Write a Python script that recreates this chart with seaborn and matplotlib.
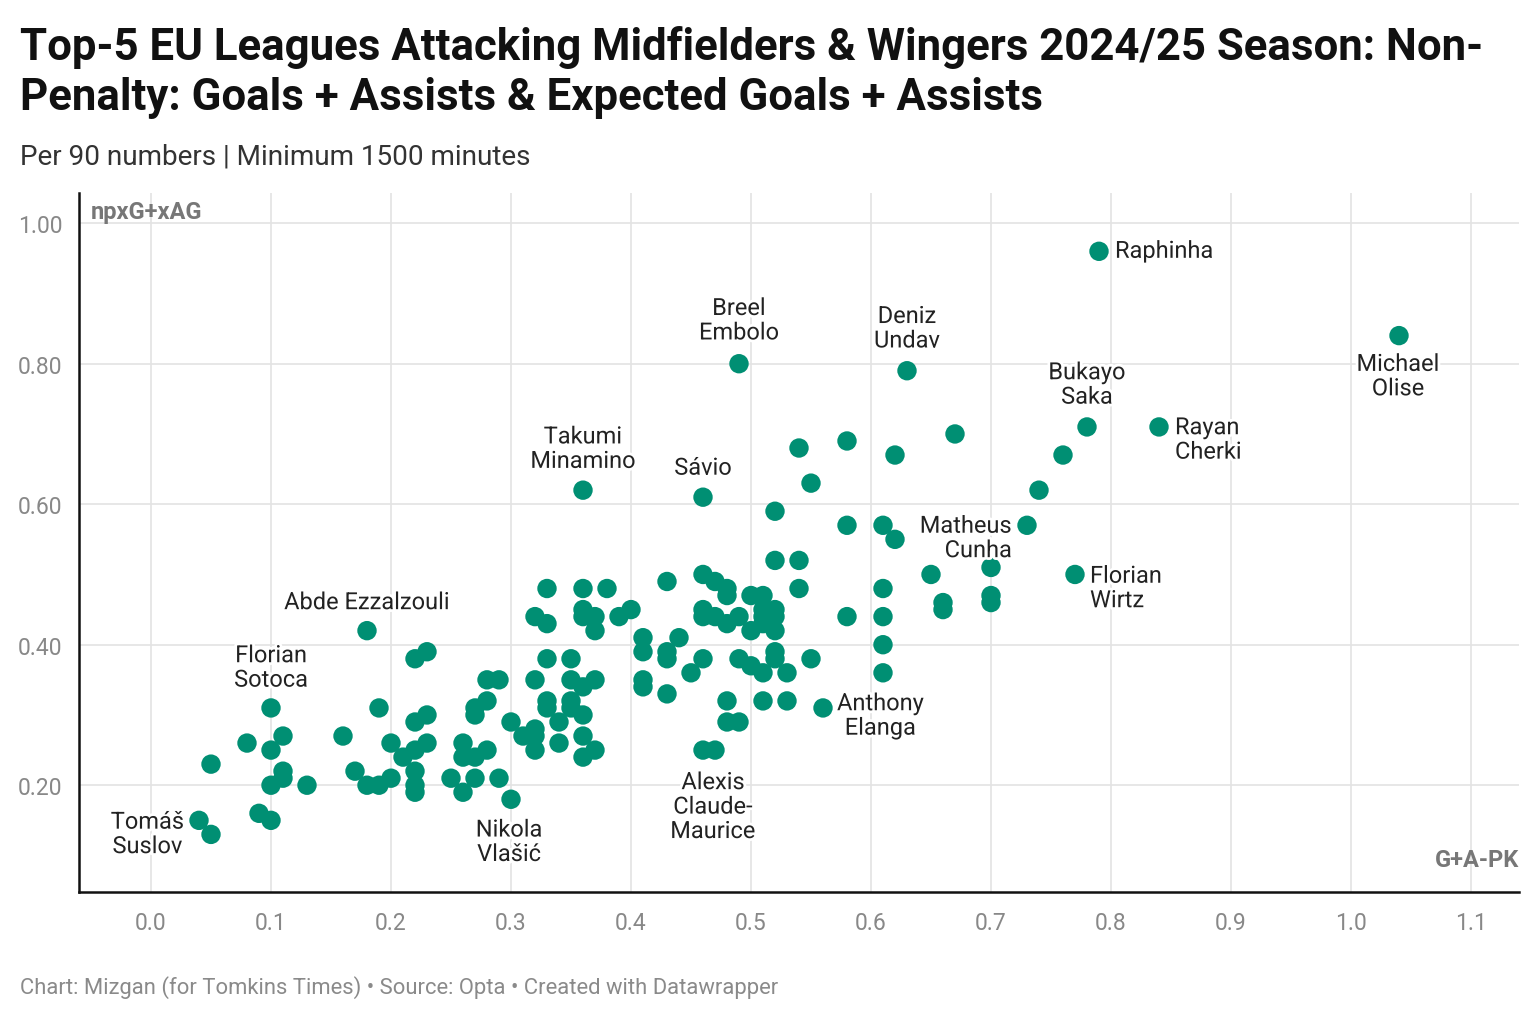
import matplotlib
matplotlib.use("Agg")
import matplotlib.pyplot as plt
import matplotlib.patheffects as pe
import seaborn as sns
import pandas as pd

# labelled players: name, G+A-PK, npxG+xAG
names = ["Raphinha", "Michael\nOlise", "Breel\nEmbolo", "Deniz\nUndav", "Bukayo\nSaka",
         "Rayan\nCherki", "Takumi\nMinamino", "Sávio", "Matheus\nCunha", "Florian\nWirtz",
         "Abde Ezzalzouli", "Florian\nSotoca", "Anthony\nElanga", "Alexis\nClaude-\nMaurice",
         "Nikola\nVlašić", "Tomáš\nSuslov"]
named_ga = [0.79, 1.04, 0.49, 0.63, 0.78, 0.84, 0.36, 0.46, 0.70, 0.77,
            0.18, 0.10, 0.56, 0.47, 0.30, 0.05]
named_xg = [0.96, 0.84, 0.80, 0.79, 0.71, 0.71, 0.62, 0.61, 0.51, 0.50,
            0.42, 0.31, 0.31, 0.25, 0.18, 0.13]

# everyone else
other_ga = [0.67, 0.58, 0.54, 0.62, 0.76, 0.55, 0.74, 0.52, 0.58, 0.61, 0.73, 0.62,
            0.52, 0.54, 0.46, 0.65, 0.43, 0.47, 0.33, 0.36, 0.38, 0.48, 0.54, 0.61,
            0.48, 0.50, 0.51, 0.70, 0.66, 0.70, 0.36, 0.40, 0.46, 0.51, 0.52, 0.66,
            0.32, 0.36, 0.37, 0.39, 0.46, 0.47, 0.49, 0.51, 0.52, 0.58, 0.61, 0.33,
            0.48, 0.51, 0.37, 0.50, 0.52, 0.41, 0.44, 0.61, 0.23, 0.41, 0.43, 0.52,
            0.22, 0.33, 0.35, 0.43, 0.46, 0.49, 0.52, 0.55, 0.50, 0.45, 0.51, 0.53,
            0.61, 0.28, 0.29, 0.32, 0.35, 0.37, 0.41, 0.36, 0.41, 0.43, 0.28, 0.33,
            0.35, 0.48, 0.51, 0.53, 0.19, 0.27, 0.33, 0.35, 0.23, 0.27, 0.36, 0.22,
            0.30, 0.34, 0.48, 0.49, 0.32, 0.11, 0.16, 0.31, 0.32, 0.36, 0.08, 0.20,
            0.23, 0.26, 0.34, 0.10, 0.22, 0.28, 0.32, 0.37, 0.46, 0.21, 0.26, 0.27,
            0.36, 0.05, 0.11, 0.17, 0.22, 0.11, 0.20, 0.25, 0.27, 0.29, 0.10, 0.13,
            0.18, 0.19, 0.22, 0.22, 0.26, 0.09, 0.04, 0.10]
other_xg = [0.70, 0.69, 0.68, 0.67, 0.67, 0.63, 0.62, 0.59, 0.57, 0.57, 0.57, 0.55,
            0.52, 0.52, 0.50, 0.50, 0.49, 0.49, 0.48, 0.48, 0.48, 0.48, 0.48, 0.48,
            0.47, 0.47, 0.47, 0.47, 0.46, 0.46, 0.45, 0.45, 0.45, 0.45, 0.45, 0.45,
            0.44, 0.44, 0.44, 0.44, 0.44, 0.44, 0.44, 0.44, 0.44, 0.44, 0.44, 0.43,
            0.43, 0.43, 0.42, 0.42, 0.42, 0.41, 0.41, 0.40, 0.39, 0.39, 0.39, 0.39,
            0.38, 0.38, 0.38, 0.38, 0.38, 0.38, 0.38, 0.38, 0.37, 0.36, 0.36, 0.36,
            0.36, 0.35, 0.35, 0.35, 0.35, 0.35, 0.35, 0.34, 0.34, 0.33, 0.32, 0.32,
            0.32, 0.32, 0.32, 0.32, 0.31, 0.31, 0.31, 0.31, 0.30, 0.30, 0.30, 0.29,
            0.29, 0.29, 0.29, 0.29, 0.28, 0.27, 0.27, 0.27, 0.27, 0.27, 0.26, 0.26,
            0.26, 0.26, 0.26, 0.25, 0.25, 0.25, 0.25, 0.25, 0.25, 0.24, 0.24, 0.24,
            0.24, 0.23, 0.22, 0.22, 0.22, 0.21, 0.21, 0.21, 0.21, 0.21, 0.20, 0.20,
            0.20, 0.20, 0.20, 0.19, 0.19, 0.16, 0.15, 0.15]

# label placement: offset in pixels, ha, line alignment
label_pos = [((16, 0), "left", "left"), ((-1, -41), "center", "center"),
             ((0, 43), "center", "center"), ((0, 42), "center", "center"),
             ((0, 42), "center", "center"), ((16, -13), "left", "left"),
             ((0, 41), "center", "center"), ((0, 29), "center", "center"),
             ((21, 29), "right", "right"), ((15, -14), "left", "left"),
             ((0, 28), "center", "center"), ((0, 40), "center", "center"),
             ((14, -8), "left", "center"), ((-2, -57), "center", "center"),
             ((-2, -43), "center", "center"), ((-27, 0), "right", "center")]

df = pd.DataFrame({"ga": other_ga + named_ga, "xg": other_xg + named_xg})

sns.set_theme(style="whitegrid")
plt.rcParams["font.family"] = ["Roboto", "DejaVu Sans"]

fig = plt.figure(figsize=(15.4, 10.2), dpi=100)
ax = fig.add_axes([79 / 1540, 1 - 893 / 1020, 1440 / 1540, 699 / 1020])

green = "#008f73"
sns.scatterplot(data=df, x="ga", y="xg", ax=ax, color=green, s=195,
                edgecolor="none", linewidth=0, zorder=3)

for n, gx, gy, (off, ha, ma) in zip(names, named_ga, named_xg, label_pos):
    ax.annotate(n, (gx, gy), xytext=off, textcoords="offset pixels",
                ha=ha, va="center", multialignment=ma, fontsize=17,
                color="#222222", linespacing=1.08, zorder=4,
                path_effects=[pe.withStroke(linewidth=4, foreground="white")])

ax.set_xlim(-0.06, 1.14)
ax.set_ylim(0.048, 1.043)
ax.set_xticks([i / 10 for i in range(12)])
ax.set_xticklabels([f"{i / 10:.1f}" for i in range(12)])
ax.set_yticks([0.2, 0.4, 0.6, 0.8, 1.0])
ax.set_yticklabels(["0.20", "0.40", "0.60", "0.80", "1.00"])
ax.tick_params(axis="both", labelsize=16.5, labelcolor="#888888", length=0)
ax.tick_params(axis="x", pad=14)
ax.tick_params(axis="y", pad=12)
ax.set_xlabel("")
ax.set_ylabel("")
ax.grid(True, color="#e3e3e3", linewidth=1.2)
for side in ["top", "right"]:
    ax.spines[side].set_visible(False)
for side in ["left", "bottom"]:
    ax.spines[side].set_color("#111111")
    ax.spines[side].set_linewidth(1.8)

ax.text(0.008, 0.99, "npxG+xAG", transform=ax.transAxes, ha="left", va="top",
        fontsize=17, fontweight="bold", color="#777777")
ax.text(1.0, 0.03, "G+A-PK", transform=ax.transAxes, ha="right", va="bottom",
        fontsize=17, fontweight="bold", color="#777777")

fig.text(20 / 1540, 1 - 60 / 1020,
         "Top-5 EU Leagues Attacking Midfielders & Wingers 2024/25 Season: Non-",
         fontsize=31.5, fontweight="bold", color="#111111", va="baseline")
fig.text(20 / 1540, 1 - 110 / 1020,
         "Penalty: Goals + Assists & Expected Goals + Assists",
         fontsize=31.5, fontweight="bold", color="#111111", va="baseline")
fig.text(20 / 1540, 1 - 165 / 1020, "Per 90 numbers | Minimum 1500 minutes",
         fontsize=20.1, color="#333333", va="baseline")
fig.text(20 / 1540, 1 - 994 / 1020,
         "Chart: Mizgan (for Tomkins Times) • Source: Opta • Created with Datawrapper",
         fontsize=15.8, color="#8a8a8a", va="baseline")

fig.savefig("out.png", dpi=100)
